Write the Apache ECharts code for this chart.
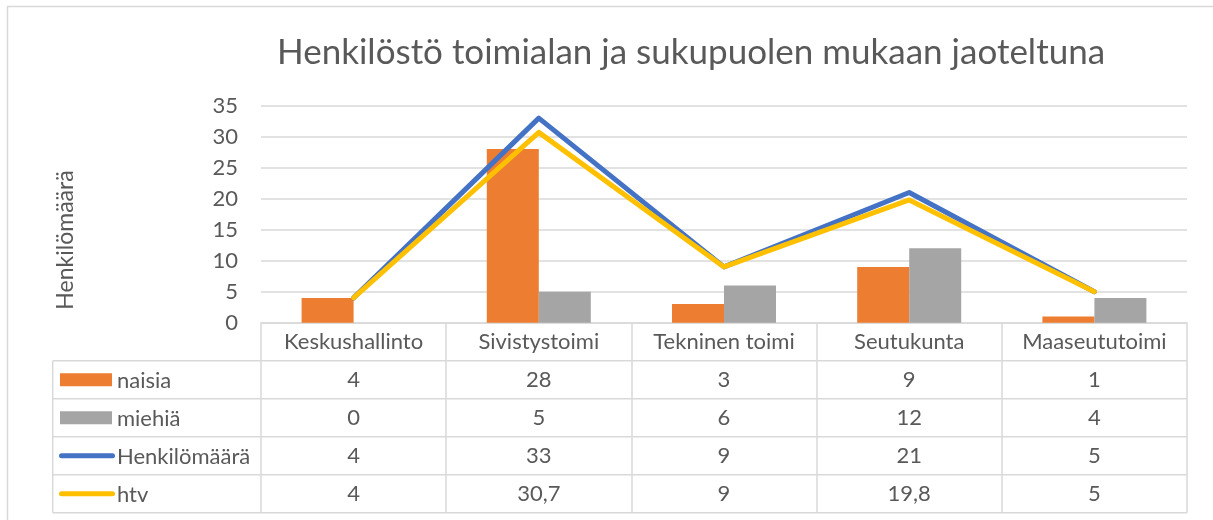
<!DOCTYPE html>
<html><head><meta charset="utf-8">
<script src="https://cdn.jsdelivr.net/npm/echarts@6/dist/echarts.min.js"></script>
<style>html,body{margin:0;padding:0;background:#fff}#c{width:1213px;height:520px}</style>
</head><body><div id="c"></div>
<script>
const categories = ['Keskushallinto','Sivistystoimi','Tekninen toimi','Seutukunta','Maaseututoimi'];
const naisia = [4, 28, 3, 9, 1];
const miehia = [0, 5, 6, 12, 4];
const henkilomaara = [4, 33, 9, 21, 5];
const htv = [4, 30.7, 9, 19.8, 5];
const htvLabels = ['4', '30,7', '9', '19,8', '5'];
const seriesNames = ['naisia', 'miehiä', 'Henkilömäärä', 'htv'];
const yTicks = [0, 5, 10, 15, 20, 25, 30, 35];

const FONT = 'Lato';
const TXT = '#595959';
const LINE = '#d9d9d9';
const W = 1213, H = 520;
const gL = 261, gR = 1187, gT = 105.7, axisY = 322.7, rowH = 38;
const tableLeft = 52.7;
const FS = 22;
const rowValues = [naisia.map(String), miehia.map(String), henkilomaara.map(String), htvLabels];
const colors = ['#ED7D31', '#A5A5A5', '#4472C4', '#FFC000'];

const chart = echarts.init(document.getElementById('c'), null, {renderer: 'canvas'});

const xAxes = [{
  type: 'category', data: categories, gridIndex: 0, position: 'bottom',
  axisLine: {show: true, lineStyle: {color: LINE, width: 1.5}},
  axisTick: {show: true, alignWithLabel: false, length: rowH * 5, lineStyle: {color: LINE, width: 1.5}},
  axisLabel: {color: TXT, fontFamily: FONT, fontSize: FS, margin: 8, interval: 0}
}];
rowValues.forEach((vals, r) => {
  xAxes.push({
    type: 'category', data: categories, gridIndex: 0, position: 'bottom', offset: rowH * (r + 1),
    axisLine: {show: false}, axisTick: {show: false},
    axisLabel: {color: TXT, fontFamily: FONT, fontSize: FS, margin: 8, interval: 0,
      formatter: (v, i) => vals[i]}
  });
});

const graphics = [];
graphics.push({type: 'polyline', shape: {points: [[7.5, H], [7.5, 6.5], [W, 6.5]]}, style: {stroke: LINE, lineWidth: 1.5, fill: null}, silent: true});
for (let r = 1; r <= 5; r++) {
  const y = axisY + rowH * r;
  graphics.push({type: 'line', shape: {x1: tableLeft, y1: y, x2: gR, y2: y}, style: {stroke: LINE, lineWidth: 1.5}, silent: true});
}
graphics.push({type: 'line', shape: {x1: tableLeft, y1: axisY + rowH, x2: tableLeft, y2: axisY + rowH * 5}, style: {stroke: LINE, lineWidth: 1.5}, silent: true});
seriesNames.forEach((n, r) => {
  const cy = axisY + rowH * (r + 1) + rowH / 2;
  if (r < 2) {
    graphics.push({type: 'rect', shape: {x: 60, y: cy - 6.5, width: 52, height: 13}, style: {fill: colors[r]}, silent: true});
  } else {
    graphics.push({type: 'line', shape: {x1: 61.5, y1: cy, x2: 112.5, y2: cy}, style: {stroke: colors[r], lineWidth: 5, lineCap: 'round'}, silent: true});
  }
  graphics.push({type: 'text', x: 117, y: cy + 1, style: {text: n, fill: TXT, font: FS + 'px ' + FONT, textVerticalAlign: 'middle', verticalAlign: 'middle'}, silent: true});
});
graphics.push({type: 'text', x: 66, y: 240, rotation: Math.PI / 2, style: {text: 'Henkilömäärä', fill: TXT, font: '23px ' + FONT, align: 'center', verticalAlign: 'middle', textAlign: 'center', textVerticalAlign: 'middle'}, silent: true});

chart.setOption({
  animation: false,
  backgroundColor: '#fff',
  title: {text: 'Henkilöstö toimialan ja sukupuolen mukaan jaoteltuna', left: 272, top: 30,
    textStyle: {color: TXT, fontFamily: FONT, fontSize: 35, fontWeight: 'normal'}},
  grid: {left: gL, right: W - gR, top: gT, bottom: H - axisY, containLabel: false},
  xAxis: xAxes,
  yAxis: {type: 'value', min: 0, max: 35, interval: 5,
    axisLine: {show: false}, axisTick: {show: false},
    splitLine: {lineStyle: {color: LINE, width: 1.5}},
    axisLabel: {color: TXT, fontFamily: FONT, fontSize: FS, margin: 23,
      formatter: v => yTicks.includes(v) ? String(v) : ''}},
  series: [
    {name: seriesNames[0], type: 'bar', data: naisia, barWidth: 52, barGap: '0%', itemStyle: {color: colors[0]}, z: 2},
    {name: seriesNames[1], type: 'bar', data: miehia, barWidth: 52, barGap: '0%', itemStyle: {color: colors[1]}, z: 2},
    {name: seriesNames[2], type: 'line', data: henkilomaara, symbol: 'none', lineStyle: {color: colors[2], width: 5, cap: 'round', join: 'round'}, itemStyle: {color: colors[2]}, z: 3},
    {name: seriesNames[3], type: 'line', data: htv, symbol: 'none', lineStyle: {color: colors[3], width: 5, cap: 'round', join: 'round'}, itemStyle: {color: colors[3]}, z: 4}
  ],
  graphic: graphics
});
</script></body></html>
